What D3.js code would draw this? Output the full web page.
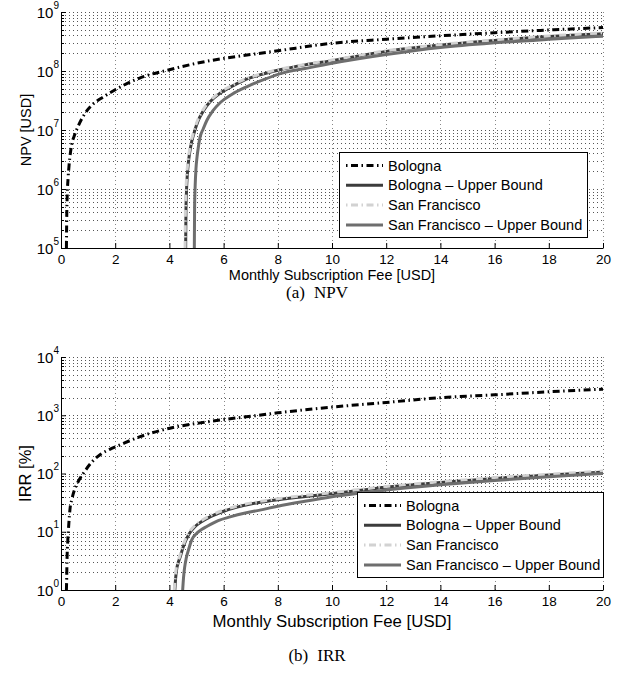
<!DOCTYPE html>
<html>
<head>
<meta charset="utf-8">
<script src="https://cdn.jsdelivr.net/npm/d3@7"></script>
<style>
	html, body { margin: 0; padding: 0; background: #fff; }
	svg { display: block; font-family: "Liberation Sans", Arial, Helvetica, sans-serif; }
</style>
</head>
<body>
<svg id="chart" width="631" height="673"></svg>
<script>

// DATA

const seriesNames = ['Bologna', 'Bologna \u2013 Upper Bound', 'San Francisco', 'San Francisco \u2013 Upper Bound'];
const xTicks = [0, 2, 4, 6, 8, 10, 12, 14, 16, 18, 20];

// (a) NPV [USD]
const npvBolognaFee = [0.2, 0.21, 0.23, 0.26, 0.3, 0.39, 0.5, 0.63, 0.8, 0.95, 1.2, 1.55, 2, 2.3, 2.9, 4, 5, 5.87, 7, 8, 10, 12, 14, 16, 18, 20];
const npvBologna = [1e5, 3e5, 8e5, 1.5e6, 2.6e6, 5.5e6, 8.2e6, 1.15e7, 1.65e7, 2.1e7, 2.8e7, 3.6e7, 4.8e7, 5.7e7, 7.6e7, 1.05e8, 1.35e8, 1.6e8, 1.9e8, 2.2e8, 2.95e8, 3.45e8, 3.95e8, 4.45e8, 4.95e8, 5.45e8];

const npvBolognaUBFee = [4.6, 4.61, 4.63, 4.66, 4.7, 4.75, 4.82, 4.9, 5.05, 5.25, 5.5, 5.87, 6.3, 6.73, 7.3, 8.08, 9, 10, 12, 14, 16, 18, 20];
const npvBolognaUB = [1e5, 4e5, 9e5, 1.7e6, 2.8e6, 4.2e6, 6.3e6, 8.6e6, 1.4e7, 2.1e7, 3e7, 4.2e7, 5.5e7, 6.9e7, 8.5e7, 1.05e8, 1.27e8, 1.5e8, 2.15e8, 2.75e8, 3.3e8, 3.85e8, 4.3e8];

const npvSFFee = [4.58, 4.59, 4.61, 4.64, 4.68, 4.73, 4.8, 4.88, 5.03, 5.23, 5.48, 5.85, 6.28, 6.7, 7.3, 8.08, 9, 10, 12, 14, 16, 18, 20];
const npvSF = [1e5, 4e5, 9e5, 1.7e6, 2.8e6, 4.2e6, 6.3e6, 8.7e6, 1.42e7, 2.15e7, 3.05e7, 4.3e7, 5.6e7, 7e7, 8.7e7, 1.07e8, 1.29e8, 1.53e8, 2.2e8, 2.8e8, 3.36e8, 3.92e8, 4.42e8];

const npvSFUBFee = [4.92, 4.93, 4.95, 4.98, 5.02, 5.07, 5.13, 5.25, 5.38, 5.6, 5.87, 6.3, 6.85, 7.5, 8.2, 9, 10, 12, 14, 16, 18, 20];
const npvSFUB = [1e5, 5e5, 1.1e6, 2.2e6, 3.5e6, 5.2e6, 7.5e6, 1.05e7, 1.45e7, 2.1e7, 2.9e7, 4e7, 5.4e7, 7.2e7, 9.3e7, 1.1e8, 1.35e8, 1.9e8, 2.5e8, 3e8, 3.45e8, 3.9e8];

// (b) IRR [%]
const irrBolognaFee = [0.2, 0.21, 0.22, 0.25, 0.29, 0.33, 0.4, 0.52, 0.65, 0.82, 1.1, 1.44, 1.8, 2.18, 2.92, 4.02, 5.13, 5.87, 7, 8, 10, 12, 14, 16, 18, 20];
const irrBologna = [1, 1.6, 3, 7, 14, 24, 36, 56, 75, 100, 150, 210, 260, 310, 430, 600, 740, 830, 960, 1100, 1380, 1660, 2000, 2240, 2530, 2800];

const irrBolognaUBFee = [4.2, 4.23, 4.27, 4.33, 4.4, 4.5, 4.6, 4.75, 4.95, 5.2, 5.5, 6, 6.5, 7, 7.7, 8.5, 10, 12, 14, 16, 18, 20];
const irrBolognaUB = [1, 1.6, 2.3, 3, 3.7, 5.3, 7, 9.5, 12.3, 15, 18, 22.5, 26.5, 30, 34, 38, 45, 58, 70, 82, 94, 106];

const irrSFFee = [4.18, 4.21, 4.25, 4.31, 4.38, 4.48, 4.58, 4.73, 4.93, 5.18, 5.48, 5.98, 6.48, 6.98, 7.68, 8.48, 10, 12, 14, 16, 18, 20];
const irrSF = [1, 1.6, 2.3, 3, 3.8, 5.4, 7.2, 9.8, 12.7, 15.5, 18.6, 23.3, 27.4, 31, 35, 39.5, 47, 60, 72, 85, 97, 110];

const irrSFUBFee = [4.49, 4.52, 4.56, 4.62, 4.7, 4.82, 5, 5.2, 5.38, 5.8, 6.24, 6.8, 7.34, 8, 9, 10, 12, 14, 16, 18, 20];
const irrSFUB = [1, 1.6, 2.4, 3.5, 4.8, 7.2, 9.3, 11, 12.3, 15.5, 18, 21, 23.5, 27.5, 33.5, 40, 52, 64, 76, 88, 100];

// STYLES

const styles = [
	{ stroke: '#000', width: 3, dash: '7,3.5,1.5,3.5' },
	{ stroke: '#3c3c3c', width: 3, dash: null },
	{ stroke: '#d2d2d2', width: 3, dash: '7,3.5,1.5,3.5' },
	{ stroke: '#6e6e6e', width: 3, dash: null }
];

const zip = (xs, ys) => xs.map((x, i) => ({ x, y: ys[i] }));

const panels = [
	{
		id: 'npv', top: 12, bottom: 248, yDomain: [1e5, 1e9], yLabel: 'NPV [USD]',
		yLabelSize: 14.5, xLabelSize: 14.5, xLabelGap: 31.5, caption: ['(a)', 'NPV'], captionY: 298,
		legend: { left: 339, top: 152, width: 248, height: 85 },
		series: [
			zip(npvBolognaFee, npvBologna),
			zip(npvBolognaUBFee, npvBolognaUB),
			zip(npvSFFee, npvSF),
			zip(npvSFUBFee, npvSFUB)
		]
	},
	{
		id: 'irr', top: 357, bottom: 590, yDomain: [1, 1e4], yLabel: 'IRR [%]',
		yLabelSize: 16.5, xLabelSize: 16.8, xLabelGap: 36.5, caption: ['(b)', 'IRR'], captionY: 661,
		legend: { left: 357, top: 492, width: 246, height: 85 },
		series: [
			zip(irrBolognaFee, irrBologna),
			zip(irrBolognaUBFee, irrBolognaUB),
			zip(irrSFFee, irrSF),
			zip(irrSFUBFee, irrSFUB)
		]
	}
];

const svg = d3.select('#chart');
const left = 61, right = 603;

const drawPanel = p => {

	const x = d3.scaleLinear().domain([0, 20]).range([left, right]);
	const y = d3.scaleLog().domain(p.yDomain).range([p.bottom, p.top]);

	const g = svg.append('g').attr('id', p.id);

	svg.append('clipPath').attr('id', 'clip-' + p.id)
		.append('rect')
		.attr('x', left).attr('y', p.top)
		.attr('width', right - left).attr('height', p.bottom - p.top);

	const decades = d3.range(Math.log10(p.yDomain[0]), Math.log10(p.yDomain[1]) + 1).map(e => Math.pow(10, e));
	const minors = [];
	decades.slice(0, -1).forEach(d => { for (let k = 2; k <= 9; k++) minors.push(d * k); });

	// grid
	g.append('g').selectAll('line')
		.data(minors.concat(decades))
		.join('line')
		.attr('x1', left).attr('x2', right)
		.attr('y1', d => Math.round(y(d)) + 0.5).attr('y2', d => Math.round(y(d)) + 0.5)
		.attr('stroke', '#555').attr('stroke-width', 1)
		.attr('stroke-dasharray', '1,3');

	g.append('g').selectAll('line')
		.data(xTicks.slice(1))
		.join('line')
		.attr('x1', d => Math.round(x(d)) + 0.5).attr('x2', d => Math.round(x(d)) + 0.5)
		.attr('y1', p.top).attr('y2', p.bottom)
		.attr('stroke', '#888').attr('stroke-width', 1)
		.attr('stroke-dasharray', '1,3');

	// curves
	const line = d3.line()
		.x(d => x(d.x))
		.y(d => y(d.y))
		.curve(d3.curveMonotoneX);

	g.append('g').attr('clip-path', 'url(#clip-' + p.id + ')')
		.selectAll('path')
		.data(p.series)
		.join('path')
		.attr('d', line)
		.attr('fill', 'none')
		.attr('stroke', (d, i) => styles[i].stroke)
		.attr('stroke-width', (d, i) => styles[i].width)
		.attr('stroke-dasharray', (d, i) => styles[i].dash);

	// axes
	const xAxis = d3.axisBottom(x).tickValues(xTicks).tickSizeInner(-5).tickSizeOuter(0).tickPadding(6.5);
	const gx = g.append('g').attr('transform', `translate(0,${p.bottom})`).call(xAxis);
	gx.select('.domain').attr('stroke', '#000');
	gx.selectAll('.tick line').attr('stroke', '#000');
	gx.selectAll('.tick text').attr('font-size', 13.5).attr('fill', '#000')
		.attr('font-family', '"Liberation Sans", Arial, sans-serif');

	const yAxis = d3.axisLeft(y).tickValues(decades).tickSizeInner(-5).tickSizeOuter(0).tickFormat('');
	const gy = g.append('g').attr('transform', `translate(${left},0)`).call(yAxis);
	gy.select('.domain').attr('stroke', '#000');
	gy.selectAll('.tick line').attr('stroke', '#000');

	g.append('g').selectAll('line')
		.data(minors)
		.join('line')
		.attr('x1', left).attr('x2', left + 3)
		.attr('y1', d => Math.round(y(d)) + 0.5).attr('y2', d => Math.round(y(d)) + 0.5)
		.attr('stroke', '#000');

	// y tick labels: 10 with a raised exponent
	const labels = g.append('g').selectAll('text')
		.data(decades)
		.join('text')
		.attr('x', 59)
		.attr('y', d => y(d) + 5.5)
		.attr('text-anchor', 'end')
		.attr('font-size', 15);
	labels.append('tspan').text('10');
	labels.append('tspan')
		.attr('dy', -9).attr('font-size', 10)
		.text(d => Math.round(Math.log10(d)));

	// axis titles
	g.append('text')
		.attr('x', (left + right) / 2)
		.attr('y', p.bottom + p.xLabelGap)
		.attr('text-anchor', 'middle')
		.attr('font-size', p.xLabelSize)
		.text('Monthly Subscription Fee [USD]');

	g.append('text')
		.attr('transform', `translate(31,${(p.top + p.bottom) / 2}) rotate(-90)`)
		.attr('text-anchor', 'middle')
		.attr('font-size', p.yLabelSize)
		.text(p.yLabel);

	// caption
	const cap = g.append('text')
		.attr('x', 317)
		.attr('y', p.captionY)
		.attr('text-anchor', 'middle')
		.attr('font-family', '"Liberation Serif", "Times New Roman", serif')
		.attr('font-size', 17);
	cap.append('tspan').text(p.caption[0]);
	cap.append('tspan').attr('dx', 9).text(p.caption[1]);

	// legend
	const L = p.legend;
	const lg = g.append('g').attr('transform', `translate(${L.left},${L.top})`);
	lg.append('rect')
		.attr('x', 0.5).attr('y', 0.5)
		.attr('width', L.width).attr('height', L.height)
		.attr('fill', '#fff').attr('stroke', '#000').attr('stroke-width', 1);

	const rows = lg.selectAll('g.row')
		.data(seriesNames)
		.join('g')
		.attr('class', 'row')
		.attr('transform', (d, i) => `translate(0,${13.5 + i * 19.8})`);

	rows.append('line')
		.attr('x1', 7).attr('x2', 44)
		.attr('stroke', (d, i) => styles[i].stroke)
		.attr('stroke-width', (d, i) => styles[i].width)
		.attr('stroke-dasharray', (d, i) => styles[i].dash ? '1.5,3.5,7,3.5' : null);

	rows.append('text')
		.attr('x', 49).attr('y', 5)
		.attr('font-size', 14.5)
		.text(d => d);
};

panels.forEach(drawPanel);

</script>
</body>
</html>
